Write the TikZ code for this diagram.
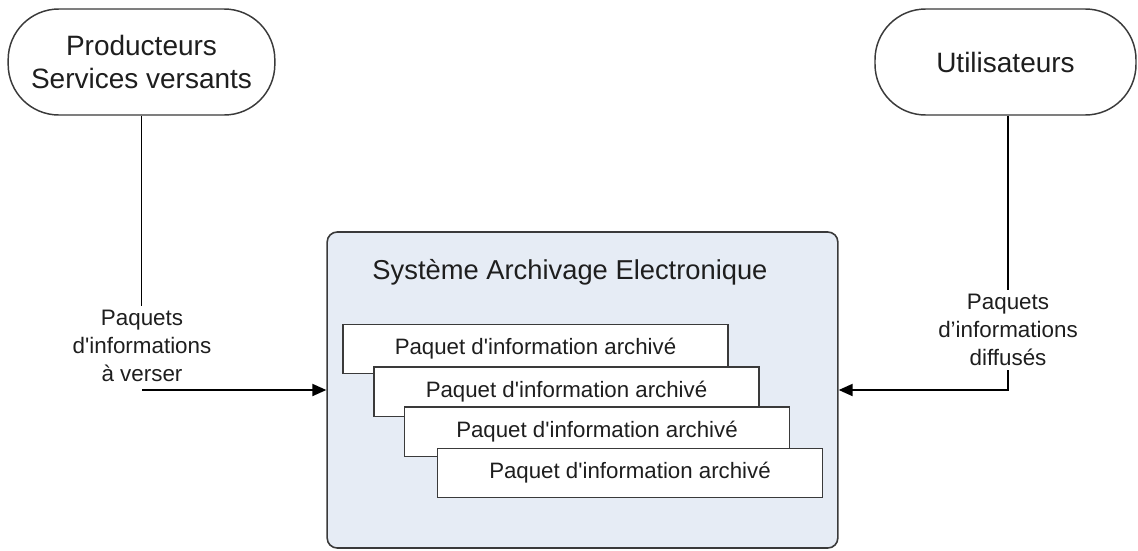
\documentclass[tikz,border=0pt]{standalone}
\usepackage{fontspec}
\setmainfont{Liberation Sans}[Ligatures=TeXOff]
\usetikzlibrary{arrows.meta}
\definecolor{saefill}{HTML}{E6ECF5}
\definecolor{edge}{HTML}{3A3A3A}
\definecolor{ink}{HTML}{1E1E1E}
\tikzset{
  actor/.style={draw=edge, line width=1.1pt, fill=white, rounded corners=38pt,
    minimum width=200pt, minimum height=79.5pt, align=center, text=ink,
    font=\fontsize{21}{25}\selectfont},
  system/.style={draw=edge, line width=1.2pt, fill=saefill, rounded corners=7.5pt,
    minimum width=383pt, minimum height=237pt},
  packet/.style={draw=edge, line width=1pt, fill=white, minimum width=288.75pt,
    minimum height=37pt, text=ink, font=\fontsize{16.7}{20}\selectfont},
  flowlabel/.style={align=center, text=ink, inner sep=0pt,
    font=\fontsize{16.8}{21}\selectfont},
  link/.style={draw=black, line width=1.4pt},
  arr/.style={link, -{Triangle[length=10.5pt,width=9pt]}}
}
\begin{document}
\begin{tikzpicture}[x=0.75pt, y=-0.75pt]
  \useasboundingbox (0,0) rectangle (1138,550);

  % external actors
  \node[actor] (prod) at (141.5,62) {Producteurs\\Services versants};
  \node[actor, minimum width=195.75pt] (util) at (1005.5,62) {Utilisateurs};

  % archiving system
  \node[system] (sae) at (582.5,390) {};
  \node[text=ink, font=\fontsize{20.5}{24}\selectfont] (title) at (570,272)
    {Système Archivage Electronique};

  % stacked archived information packages
  \node[packet] (pk1) at (535.5,349) {Paquet d'information archivé};
  \node[packet] (pk2) at (566.5,391.5) {Paquet d'information archivé};
  \node[packet] (pk3) at (597,431.5) {Paquet d'information archivé};
  \node[packet] (pk4) at (630,473) {Paquet d'information archivé};

  % flow labels
  \node[flowlabel] (lblL) at (142,346) {Paquets\\d'informations\\à verser};
  \node[flowlabel] (lblR) at (1008,330) {Paquets\\d’informations\\diffusés};

  % ingest flow
  \draw[link] (prod.south) -- ([yshift=3pt]prod.south |- lblL.north);
  \coordinate (inL) at (lblL.south |- sae.west);
  \draw[arr] (inL) -- (sae.west);

  % dissemination flow
  \draw[link] (util.south -| lblR.north) -- ([yshift=3pt]lblR.north);
  \draw[arr] ([yshift=-3pt]lblR.south) |- (sae.east);
\end{tikzpicture}
\end{document}
